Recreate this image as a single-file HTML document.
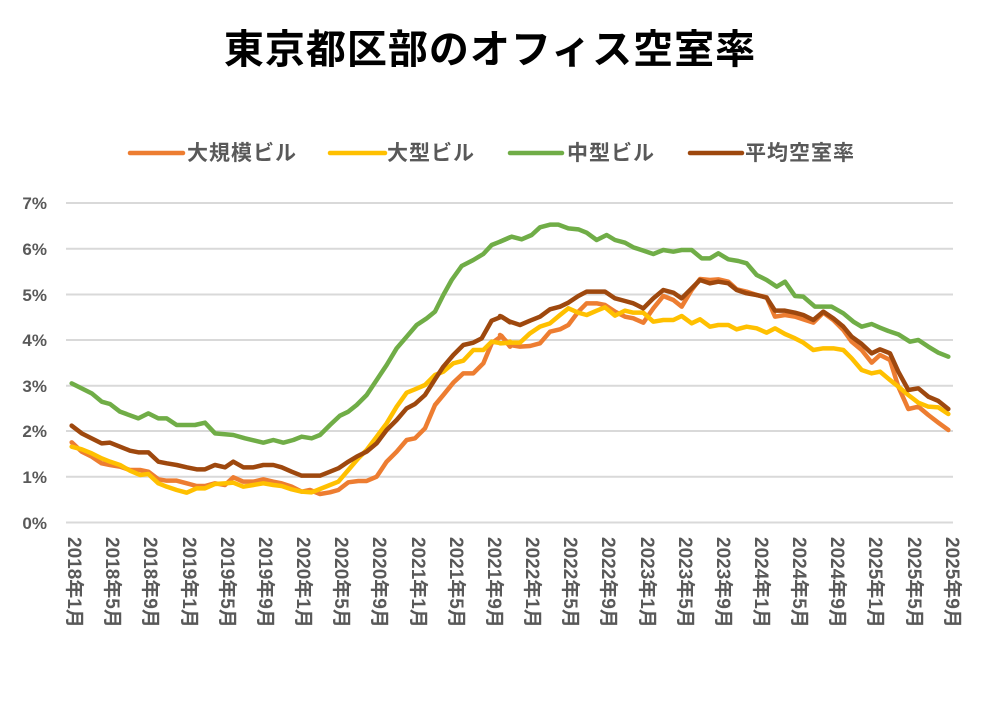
<!DOCTYPE html>
<html><head><meta charset="utf-8"><style>
body{margin:0;background:#fff;}
svg text{font-family:"Liberation Sans","Noto Sans CJK JP",sans-serif;font-weight:bold;}
</style></head><body>
<svg width="988" height="716" viewBox="0 0 988 716" xmlns="http://www.w3.org/2000/svg">
<rect width="988" height="716" fill="#fff"/>
<text x="490" y="63" font-size="40" letter-spacing="1" text-anchor="middle" fill="#000">東京都区部のオフィス空室率</text>
<g font-size="21" fill="#595959" letter-spacing="1">
<line x1="130" y1="153" x2="183" y2="153" stroke="#ed7d31" stroke-width="4.5" stroke-linecap="round"/><text x="187" y="160">大規模ビル</text>
<line x1="330" y1="153" x2="385" y2="153" stroke="#ffc000" stroke-width="4.5" stroke-linecap="round"/><text x="387" y="160">大型ビル</text>
<line x1="510" y1="153" x2="562" y2="153" stroke="#70ad47" stroke-width="4.5" stroke-linecap="round"/><text x="567" y="160">中型ビル</text>
<line x1="690" y1="153" x2="742" y2="153" stroke="#9e480e" stroke-width="4.5" stroke-linecap="round"/><text x="745" y="160">平均空室率</text>
</g>
<g stroke="#d9d9d9" stroke-width="2">
<line x1="66" y1="203" x2="953" y2="203"/><line x1="66" y1="248.7" x2="953" y2="248.7"/>
<line x1="66" y1="294.5" x2="953" y2="294.5"/><line x1="66" y1="340" x2="953" y2="340"/>
<line x1="66" y1="385.7" x2="953" y2="385.7"/><line x1="66" y1="431" x2="953" y2="431"/>
<line x1="66" y1="476.7" x2="953" y2="476.7"/><line x1="66" y1="522.5" x2="953" y2="522.5"/>
</g>
<g font-size="17" fill="#595959" text-anchor="end">
<text x="47" y="209">7%</text><text x="47" y="255">6%</text><text x="47" y="301">5%</text><text x="47" y="346">4%</text>
<text x="47" y="392">3%</text><text x="47" y="437">2%</text><text x="47" y="483">1%</text><text x="47" y="529">0%</text>
</g>
<g font-size="19" fill="#595959">
<text transform="translate(68,537) rotate(90)">2018年1月</text>
<text transform="translate(106,537) rotate(90)">2018年5月</text>
<text transform="translate(144,537) rotate(90)">2018年9月</text>
<text transform="translate(183,537) rotate(90)">2019年1月</text>
<text transform="translate(221,537) rotate(90)">2019年5月</text>
<text transform="translate(259,537) rotate(90)">2019年9月</text>
<text transform="translate(297,537) rotate(90)">2020年1月</text>
<text transform="translate(335,537) rotate(90)">2020年5月</text>
<text transform="translate(373,537) rotate(90)">2020年9月</text>
<text transform="translate(412,537) rotate(90)">2021年1月</text>
<text transform="translate(450,537) rotate(90)">2021年5月</text>
<text transform="translate(488,537) rotate(90)">2021年9月</text>
<text transform="translate(526,537) rotate(90)">2022年1月</text>
<text transform="translate(564,537) rotate(90)">2022年5月</text>
<text transform="translate(602,537) rotate(90)">2022年9月</text>
<text transform="translate(641,537) rotate(90)">2023年1月</text>
<text transform="translate(679,537) rotate(90)">2023年5月</text>
<text transform="translate(717,537) rotate(90)">2023年9月</text>
<text transform="translate(755,537) rotate(90)">2024年1月</text>
<text transform="translate(793,537) rotate(90)">2024年5月</text>
<text transform="translate(831,537) rotate(90)">2024年9月</text>
<text transform="translate(869,537) rotate(90)">2025年1月</text>
<text transform="translate(908,537) rotate(90)">2025年5月</text>
<text transform="translate(946,537) rotate(90)">2025年9月</text>
</g>
<g fill="none" stroke-width="4.5" stroke-linejoin="round" stroke-linecap="round">
<g transform="translate(60,190) scale(0.33333)">
<polyline vector-effect="non-scaling-stroke" stroke="#ed7d31" points="35,757 65,785 95,800 125,820 150,825 180,830 210,840 240,840 265,845 295,868 320,872 350,872 380,880 410,888 435,888 465,880 495,885 520,862 550,875 580,875 610,868 640,875 665,880 695,890 725,905 750,900 780,912 810,907 835,900 865,877 895,873 920,873 950,860 980,815 1010,785 1040,750 1065,745 1095,715 1125,645 1150,615 1180,578 1210,550 1240,550 1270,520 1295,460 1325,438 1350,470"/>
<polyline vector-effect="non-scaling-stroke" stroke="#ffc000" points="35,770 65,778 95,790 125,805 150,815 180,825 210,842 240,855 265,852 295,880 320,890 350,900 380,908 410,895 435,895 465,882 495,880 520,878 550,890 580,885 610,880 640,885 665,888 695,898 725,905 755,907 780,897 810,885 835,875 865,840 895,805 920,780 950,740 980,700 1010,650 1040,608 1065,598 1095,585 1125,555 1150,545 1180,520 1210,512 1240,480 1270,480 1295,455 1325,460 1350,455"/>
<polyline vector-effect="non-scaling-stroke" stroke="#70ad47" points="35,580 95,610 125,635 150,642 180,665 235,685 265,670 295,685 320,685 350,705 405,705 435,698 465,730 520,735 555,745 610,758 640,750 670,758 700,750 725,740 755,745 780,735 810,705 840,677 865,665 890,645 920,615 950,570 980,525 1010,475 1040,440 1070,405 1100,385 1125,365 1150,315 1175,270 1205,228 1240,210 1270,192 1295,165 1320,155 1350,142"/>
<polyline vector-effect="non-scaling-stroke" stroke="#9e480e" points="35,707 65,730 95,745 125,760 150,758 180,770 210,782 235,787 265,787 295,815 320,820 350,825 380,832 410,838 435,838 465,825 495,832 520,815 550,832 580,832 610,825 640,825 665,832 695,845 725,857 780,857 810,845 835,835 865,815 890,800 920,785 950,760 980,720 1010,690 1040,655 1065,642 1095,615 1125,568 1150,530 1180,495 1210,465 1240,458 1265,445 1295,392 1325,380 1350,397"/>
</g>
<g transform="translate(500,190) scale(0.33333)">
<polyline vector-effect="non-scaling-stroke" stroke="#ed7d31" points="0,435 30,465 60,470 90,468 120,460 150,425 180,418 205,405 235,365 260,340 290,340 315,345 345,365 375,380 400,385 430,398 460,355 490,318 520,330 545,350 575,300 600,267 630,270 655,268 685,275 710,298 740,305 770,315 800,322 825,380 855,375 885,380 910,388 940,398 970,368 1000,390 1030,420 1055,455 1085,480 1115,518 1140,495 1170,510 1195,590 1225,657 1255,650 1285,675 1315,698 1345,720"/>
<polyline vector-effect="non-scaling-stroke" stroke="#ffc000" points="0,460 30,458 60,458 90,430 120,410 150,400 180,375 205,355 235,368 260,375 290,362 315,352 345,377 375,362 400,368 430,368 460,395 490,390 520,390 545,378 575,400 600,388 630,410 655,405 685,405 710,418 740,410 770,415 800,428 825,415 855,432 885,445 910,458 940,480 970,475 1000,475 1030,480 1055,505 1085,540 1115,550 1140,545 1170,570 1195,590 1225,615 1255,638 1285,650 1315,652 1345,672"/>
<polyline vector-effect="non-scaling-stroke" stroke="#70ad47" points="0,155 35,140 65,148 95,135 120,112 150,104 175,104 205,115 235,118 260,128 290,150 320,135 345,150 375,158 400,172 430,182 460,192 490,180 520,185 545,180 575,180 605,205 630,205 655,190 685,208 715,213 740,220 770,255 800,270 830,290 855,275 885,318 910,320 945,350 995,350 1030,370 1060,395 1085,410 1115,402 1140,413 1165,423 1195,433 1230,455 1255,450 1285,470 1315,488 1345,500"/>
<polyline vector-effect="non-scaling-stroke" stroke="#9e480e" points="0,378 30,395 60,405 90,392 120,380 150,358 180,350 205,338 235,318 260,305 290,305 315,305 345,325 375,333 400,340 430,355 460,325 490,300 520,308 545,325 575,295 600,270 630,280 655,275 685,280 710,300 740,310 770,315 800,323 825,362 855,362 885,368 910,375 940,390 970,365 1000,385 1030,410 1055,440 1085,462 1115,490 1140,478 1170,490 1195,545 1225,600 1255,595 1285,620 1315,633 1345,657"/>
</g>
</g>
</svg>
</body></html>
